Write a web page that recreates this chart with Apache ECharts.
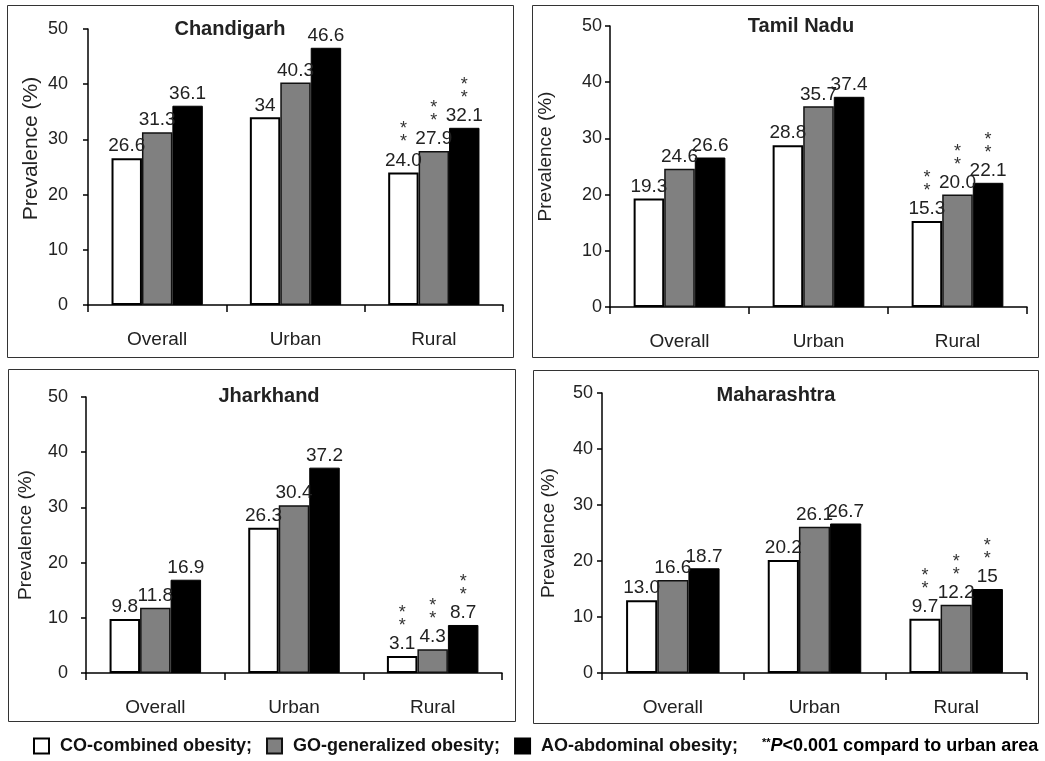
<!DOCTYPE html>
<html>
<head>
<meta charset="utf-8">
<script src="https://cdn.jsdelivr.net/npm/echarts@6/dist/echarts.min.js"></script>
<style>
  html, body { margin: 0; padding: 0; background: #fff; }
  #graph { width: 1045px; height: 761px; }
</style>
</head>
<body>
<div id="graph"></div>
<script>
// data (label text kept as printed)
const categories = ['Overall', 'Urban', 'Rural'];
const seriesNames = ['CO-combined obesity', 'GO-generalized obesity', 'AO-abdominal obesity'];
const stateNames = ['Chandigarh', 'Tamil Nadu', 'Jharkhand', 'Maharashtra'];
const yTicks = [0, 10, 20, 30, 40, 50];
const significant = [false, false, true]; // ** P<0.001 vs urban

const chandigarhCO = ['26.6', '34', '24.0'];
const chandigarhGO = ['31.3', '40.3', '27.9'];
const chandigarhAO = ['36.1', '46.6', '32.1'];

const tamilNaduCO = ['19.3', '28.8', '15.3'];
const tamilNaduGO = ['24.6', '35.7', '20.0'];
const tamilNaduAO = ['26.6', '37.4', '22.1'];

const jharkhandCO = ['9.8', '26.3', '3.1'];
const jharkhandGO = ['11.8', '30.4', '4.3'];
const jharkhandAO = ['16.9', '37.2', '8.7'];

const maharashtraCO = ['13.0', '20.2', '9.7'];
const maharashtraGO = ['16.6', '26.1', '12.2'];
const maharashtraAO = ['18.7', '26.7', '15'];

const stateData = [
  [chandigarhCO, chandigarhGO, chandigarhAO],
  [tamilNaduCO, tamilNaduGO, tamilNaduAO],
  [jharkhandCO, jharkhandGO, jharkhandAO],
  [maharashtraCO, maharashtraGO, maharashtraAO]
];

const FONT = '"Liberation Sans", Arial, sans-serif';
const TXT = '#222';

// layout of the four panels
const panels = [
  {grid: {left: 88, top: 29, width: 415, height: 276}, title: [230, 19], box: [7, 5, 506, 352],
   nameGap: 46, nameSize: 21, nameShift: 37, tickMargin: 20},
  {grid: {left: 610, top: 26, width: 417, height: 281}, title: [801, 16], box: [532, 5, 506, 352],
   nameGap: 55, nameSize: 19, nameShift: 20, tickMargin: 8},
  {grid: {left: 86, top: 397, width: 416, height: 276}, title: [269, 386], box: [8, 369, 507, 352],
   nameGap: 51, nameSize: 19, nameShift: 0, tickMargin: 18},
  {grid: {left: 602, top: 393, width: 425, height: 280}, title: [776, 385], box: [533, 370, 505, 353],
   nameGap: 44, nameSize: 19, nameShift: 0, tickMargin: 9}
];

const barStyles = [
  {color: '#ffffff', borderColor: '#000', borderWidth: 2},
  {color: '#808080', borderColor: '#111', borderWidth: 1.5},
  {color: '#000000', borderColor: '#000', borderWidth: 1}
];

const grids = [], xAxes = [], yAxes = [], titles = [], series = [], boxes = [];

panels.forEach(function (p, i) {
  grids.push(p.grid);
  titles.push({
    text: stateNames[i], left: p.title[0], top: p.title[1], textAlign: 'center', padding: 0,
    textStyle: {fontFamily: FONT, fontSize: 20, fontWeight: 'bold', color: TXT}
  });
  boxes.push({
    type: 'rect', silent: true,
    shape: {x: p.box[0] + 0.5, y: p.box[1] + 0.5, width: p.box[2], height: p.box[3]},
    style: {fill: 'none', stroke: '#333', lineWidth: 1}
  });
  xAxes.push({
    type: 'category', gridIndex: i, data: categories,
    axisLine: {lineStyle: {color: '#000', width: 1.5}},
    axisTick: {show: true, length: 7, lineStyle: {color: '#000', width: 1.5}},
    axisLabel: {margin: 25, fontFamily: FONT, fontSize: 19, color: TXT}
  });
  yAxes.push({
    type: 'value', gridIndex: i, min: yTicks[0], max: yTicks[yTicks.length - 1], interval: 10,
    name: 'Prevalence (%)', nameLocation: 'middle', nameRotate: 90, nameGap: p.nameGap,
    nameTextStyle: {fontFamily: FONT, fontSize: p.nameSize, color: TXT, padding: [0, 0, 0, p.nameShift]},
    splitLine: {show: false},
    axisLine: {show: true, lineStyle: {color: '#000', width: 1.5}},
    axisTick: {show: true, length: 5, lineStyle: {color: '#000', width: 1.5}},
    axisLabel: {margin: p.tickMargin, fontFamily: FONT, fontSize: 18, color: TXT}
  });
  stateData[i].forEach(function (vals, k) {
    series.push({
      type: 'bar', name: seriesNames[k], xAxisIndex: i, yAxisIndex: i,
      barWidth: '22%', barGap: '0%',
      itemStyle: barStyles[k],
      label: {
        show: true, position: 'top', distance: 2,
        fontFamily: FONT, fontSize: 19, color: TXT,
        formatter: function (prm) {
          const t = vals[prm.dataIndex];
          if (significant[prm.dataIndex]) return '{s1|*}\n{s2|*}\n{v|' + t + '}';
          return '{v|' + t + '}';
        },
        rich: {
          s1: {fontFamily: FONT, fontSize: 18, color: '#333', lineHeight: 10},
          s2: {fontFamily: FONT, fontSize: 18, color: '#333', lineHeight: 16},
          v: {fontFamily: FONT, fontSize: 19, color: TXT, lineHeight: 20}
        }
      },
      data: vals.map(Number)
    });
  });
});

const chart = echarts.init(document.getElementById('graph'));
chart.setOption({
  backgroundColor: '#fff',
  animation: false,
  title: titles,
  grid: grids,
  xAxis: xAxes,
  yAxis: yAxes,
  legend: {
    data: seriesNames, left: 33, top: 737, padding: 0, selectedMode: false,
    icon: 'rect', itemWidth: 15, itemHeight: 15, itemGap: 14,
    formatter: function (n) { return n + ';'; },
    textStyle: {fontFamily: FONT, fontSize: 18, fontWeight: 'bold', color: '#111', padding: [0, 0, 0, 6]}
  },
  graphic: boxes.concat([{
    type: 'text', left: 762, top: 737, silent: true,
    style: {
      text: '{st|**}{p|P}{t|<0.001 compard to urban area}',
      rich: {
        st: {fontFamily: FONT, fontSize: 11, fontWeight: 'bold', color: '#111', verticalAlign: 'top', lineHeight: 18},
        p: {fontFamily: FONT, fontSize: 18, fontWeight: 'bold', fontStyle: 'italic', color: '#111', lineHeight: 18},
        t: {fontFamily: FONT, fontSize: 18, fontWeight: 'bold', color: '#111', lineHeight: 18}
      }
    }
  }]),
  series: series
});
</script>
</body>
</html>
